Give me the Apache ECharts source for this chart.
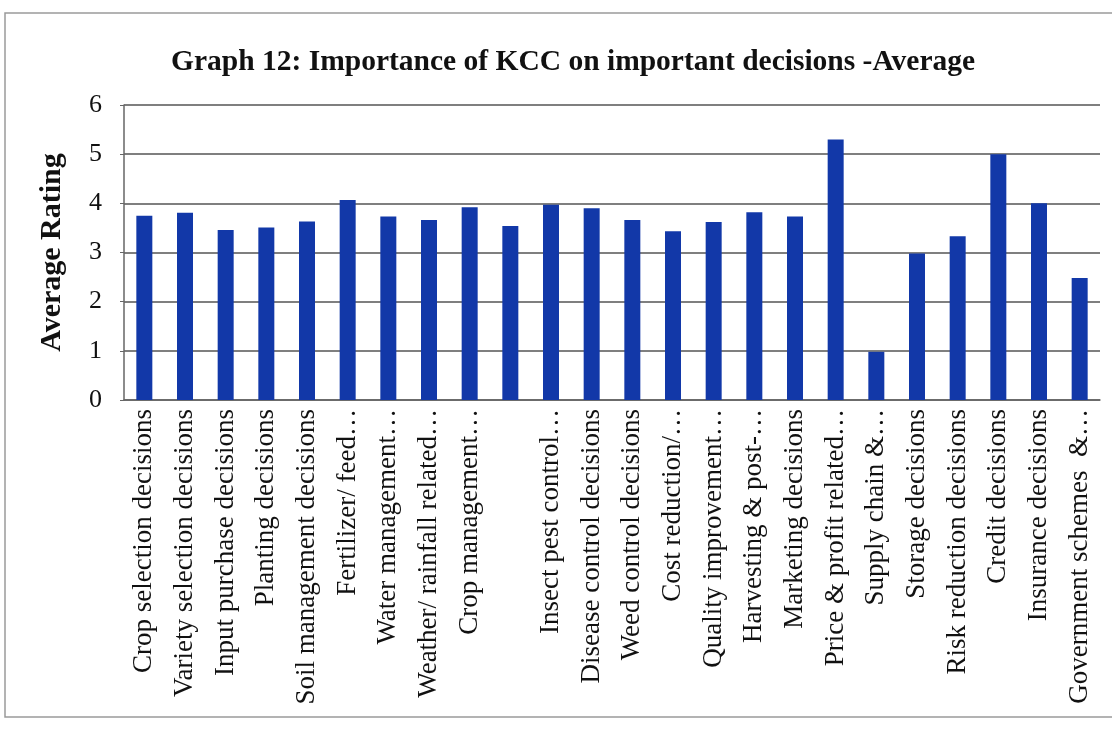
<!DOCTYPE html>
<html>
<head>
<meta charset="utf-8">
<title>Graph 12</title>
<script src="https://cdn.jsdelivr.net/npm/echarts@6/dist/echarts.min.js"></script>
<style>
  html, body { margin: 0; padding: 0; background: #fff; }
  #chart { width: 1112px; height: 731px; }
</style>
</head>
<body>
<div id="chart"></div>
<script>
// decision categories, as printed under the bars (Excel truncated the long ones)
const categories = [
  'Crop selection decisions',
  'Variety selection decisions',
  'Input purchase decisions',
  'Planting decisions',
  'Soil management decisions',
  'Fertilizer/ feed\u2026',
  'Water management\u2026',
  'Weather/ rainfall related\u2026',
  'Crop management\u2026',
  '',
  'Insect pest control\u2026',
  'Disease control decisions',
  'Weed control decisions',
  'Cost reduction/\u2026',
  'Quality improvement\u2026',
  'Harvesting & post-\u2026',
  'Marketing decisions',
  'Price & profit related\u2026',
  'Supply chain &\u2026',
  'Storage decisions',
  'Risk reduction decisions',
  'Credit decisions',
  'Insurance decisions',
  'Government schemes  &\u2026'
]

// average rating per decision
const averageRating = [
  3.75, 3.81, 3.46, 3.51, 3.63, 4.07, 3.73, 3.66, 3.92, 3.54, 3.97, 3.90,
  3.66, 3.43, 3.62, 3.82, 3.73, 5.30, 0.98, 2.98, 3.33, 5.00, 4.00, 2.48
]

const yTicks = { min: 0, max: 6, interval: 1 }

const serif = "'Liberation Serif', 'DejaVu Serif', serif"
const barColor = '#1238a8'

const chart = echarts.init(document.getElementById('chart'))

const option = {
  backgroundColor: '#fff',
  animation: false,
  title: {
    text: 'Graph 12: Importance of KCC on important decisions -Average',
    left: 166,
    top: 42,
    textStyle: {
      fontFamily: serif,
      fontWeight: 'bold',
      fontSize: 29.5,
      color: '#111'
    }
  },
  graphic: [
    {
      // outer chart border
      type: 'rect',
      shape: { x: 5, y: 13, width: 1120, height: 704 },
      style: { fill: 'none', stroke: '#9a9a9a', lineWidth: 1.5 },
      silent: true
    }
  ],
  grid: {
    left: 124,
    right: 12,
    top: 105,
    height: 295
  },
  xAxis: {
    type: 'category',
    data: categories,
    axisLine: { show: true, lineStyle: { color: '#666', width: 1.5 } },
    axisTick: { show: false },
    axisLabel: {
      interval: 0,
      rotate: 90,
      margin: 9,
      fontFamily: serif,
      fontSize: 27,
      color: '#111'
    }
  },
  yAxis: {
    type: 'value',
    min: yTicks.min,
    max: yTicks.max,
    interval: yTicks.interval,
    name: 'Average Rating',
    nameLocation: 'middle',
    nameGap: 57,
    nameTextStyle: {
      fontFamily: serif,
      fontWeight: 'bold',
      fontSize: 30,
      color: '#111'
    },
    axisLine: { show: true, lineStyle: { color: '#666', width: 1.5 } },
    axisTick: { show: true, length: 4, lineStyle: { color: '#666' } },
    axisLabel: {
      margin: 22,
      fontFamily: serif,
      fontSize: 26,
      color: '#111'
    },
    splitLine: { lineStyle: { color: '#555', width: 1.5 } }
  },
  series: [
    {
      name: 'Average Rating',
      type: 'bar',
      data: averageRating,
      barWidth: 16,
      itemStyle: { color: barColor }
    }
  ]
}

chart.setOption(option)
</script>
</body>
</html>
